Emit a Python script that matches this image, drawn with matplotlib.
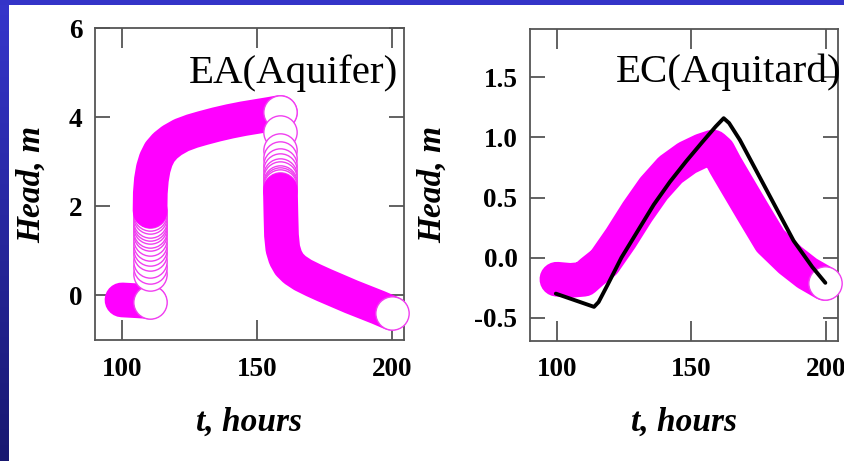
import matplotlib
matplotlib.use('Agg')
import matplotlib.pyplot as plt
import numpy as np

# ---------------- data ----------------
# EA (Aquifer): simulated head, drawn as overlapping open circles
ea_pre_t = [100, 103, 106, 108.5, 110.4]
ea_pre_h = [-0.10, -0.11, -0.12, -0.13, -0.15]
ea_jump_t = [110.4] * 16
ea_jump_h = [-0.15, 0.48, 0.64, 0.77, 0.93, 1.04, 1.15, 1.27, 1.38, 1.45,
             1.53, 1.60, 1.67, 1.76, 1.83, 1.90]
ea_rise_t = [110.4, 110.5, 110.9, 111.6, 112.6, 114, 116, 118.5, 122, 126,
             130, 135, 140, 145, 150, 155, 158.7]
ea_rise_h = [1.90, 2.30, 2.60, 2.85, 3.05, 3.22, 3.36, 3.48, 3.60, 3.69,
             3.76, 3.84, 3.91, 3.97, 4.02, 4.07, 4.11]
ea_drop_t = [158.7] * 13
ea_drop_h = [4.11, 3.67, 3.26, 3.08, 2.92, 2.81, 2.70, 2.64, 2.55, 2.50,
             2.45, 2.40, 2.36]
ea_rec_t = [158.7, 158.9, 159.1, 159.6, 160.6, 162, 164, 167, 171, 175,
            180, 185, 190, 195, 200]
ea_rec_h = [2.36, 1.80, 1.35, 1.05, 0.85, 0.70, 0.58, 0.46, 0.34, 0.23,
            0.10, -0.03, -0.15, -0.27, -0.40]

# EC (Aquitard): simulated head (circles) and observed head (black line)
ec_sim_t = [100, 105, 110, 113, 117.5, 123.7, 129.9, 136, 142.2, 148.4, 154,
            158, 160, 162.6, 166, 172.6, 179.3, 186.7, 193, 199.6]
ec_sim_h = [-0.18, -0.19, -0.18, -0.12, -0.04, 0.16, 0.38, 0.575, 0.73, 0.83,
            0.89, 0.92, 0.88, 0.77, 0.64, 0.39, 0.14, -0.02, -0.13, -0.215]
ec_obs_t = [99.6, 113.8, 115.5, 119, 124, 130, 136, 142, 148, 154, 159, 162,
            164, 168, 178, 188, 195, 199.8]
ec_obs_h = [-0.30, -0.41, -0.37, -0.22, 0.0, 0.22, 0.44, 0.63, 0.80, 0.96,
            1.09, 1.16, 1.12, 0.98, 0.56, 0.14, -0.08, -0.21]

x_ticks = [100, 150, 200]
ea_yticks = [0, 2, 4, 6]
ec_yticks = [-0.5, 0.0, 0.5, 1.0, 1.5]
ec_yticklabels = ['-0.5', '0.0', '0.5', '1.0', '1.5']

# ---------------- style ----------------
MAG = '#ff00ff'
MS = 24.0            # marker diameter (pt)
MEW = 1.0
BAND = MS + MEW      # band width equal to circle outer diameter
SERIF = ['Liberation Serif', 'DejaVu Serif']
SPINE = '#555555'

fig = plt.figure(figsize=(8.45, 4.61), dpi=100)
fig.patch.set_facecolor('white')

# blue slide border (left and top)
grad = np.linspace(0, 1, 256).reshape(-1, 1)
top_c = np.array([0x36, 0x36, 0xcc]) / 255
bot_c = np.array([0x18, 0x18, 0x70]) / 255
img = top_c[None, None, :] * (1 - grad[:, :, None]) + bot_c[None, None, :] * grad[:, :, None]
axl = fig.add_axes([0, 0, 9 / 845, 1])
axl.imshow(img, aspect='auto')
axl.axis('off')
axt = fig.add_axes([0, 1 - 5 / 461, 1, 5 / 461])
axt.set_facecolor('#3434c8')
axt.set_xticks([]); axt.set_yticks([])
for s in axt.spines.values():
    s.set_visible(False)


def style_axes(ax):
    for s in ax.spines.values():
        s.set_color(SPINE)
        s.set_linewidth(1.3)
    ax.tick_params(axis='x', which='both', direction='in', top=True, bottom=True,
                   length=14.5, width=1.3, color=SPINE, pad=12)
    ax.tick_params(axis='y', which='both', direction='in', left=True, right=True,
                   length=10.5, width=1.3, color=SPINE, pad=9)
    for lab in ax.get_xticklabels() + ax.get_yticklabels():
        lab.set_fontfamily(SERIF)
        lab.set_fontweight('bold')
        lab.set_fontsize(19.5)
        lab.set_color('black')


def band(ax, t, h, z):
    ax.plot(t, h, color=MAG, lw=BAND, solid_capstyle='round',
            solid_joinstyle='round', zorder=z, clip_on=False)


def circles(ax, t, h, z):
    ax.plot(t, h, ls='none', marker='o', ms=MS, mfc='white', mec='#f040f0',
            mew=MEW, zorder=z, clip_on=False)


# ---------------- left panel ----------------
ax1 = fig.add_axes([95 / 845, 1 - 340 / 461, 309 / 845, 311.7 / 461])
ax1.set_xlim(90, 204.5)
ax1.set_ylim(-1, 6)
ax1.set_xticks(x_ticks)
ax1.set_yticks(ea_yticks)
band(ax1, ea_pre_t, ea_pre_h, 2)
circles(ax1, ea_jump_t, ea_jump_h, 3)
band(ax1, ea_rise_t, ea_rise_h, 4)
circles(ax1, ea_drop_t, ea_drop_h, 5)
band(ax1, ea_rec_t, ea_rec_h, 6)
circles(ax1, [ea_rec_t[-1]], [ea_rec_h[-1]], 7)
style_axes(ax1)
ax1.text(0.982, 0.824, 'EA(Aquifer)', transform=ax1.transAxes, ha='right',
         va='baseline', fontsize=29.5, family=SERIF, zorder=10)
ax1.set_ylabel('Head, m', fontsize=24, family=SERIF, fontweight='bold',
               style='italic')
ax1.yaxis.set_label_coords(-0.204, 0.5)
ax1.yaxis.label.set_va('center')
ax1.set_xlabel('t, hours', fontsize=24, family=SERIF, fontweight='bold',
               style='italic')
ax1.xaxis.set_label_coords(0.5, -0.263)
ax1.xaxis.label.set_va('center')

# ---------------- right panel ----------------
ax2 = fig.add_axes([530 / 845, 1 - 340.5 / 461, 308 / 845, 311.2 / 461])
ax2.set_xlim(90, 204.5)
ax2.set_ylim(-0.69, 1.9)
ax2.set_xticks(x_ticks)
ax2.set_yticks(ec_yticks)
ax2.set_yticklabels(ec_yticklabels)
band(ax2, ec_sim_t, ec_sim_h, 2)
circles(ax2, [ec_sim_t[-1]], [ec_sim_h[-1]], 3)
ax2.plot(ec_obs_t, ec_obs_h, color='black', lw=2.8, zorder=8,
         solid_joinstyle='round', solid_capstyle='round')
style_axes(ax2)
ax2.text(1.012, 0.8316, 'EC(Aquitard)', transform=ax2.transAxes, ha='right',
         va='baseline', fontsize=29.5, family=SERIF, zorder=10, clip_on=False)
ax2.set_ylabel('Head, m', fontsize=24, family=SERIF, fontweight='bold',
               style='italic')
ax2.yaxis.set_label_coords(-0.318, 0.5)
ax2.yaxis.label.set_va('center')
ax2.set_xlabel('t, hours', fontsize=24, family=SERIF, fontweight='bold',
               style='italic')
ax2.xaxis.set_label_coords(0.5, -0.263)
ax2.xaxis.label.set_va('center')

fig.savefig('out.png', dpi=100)
